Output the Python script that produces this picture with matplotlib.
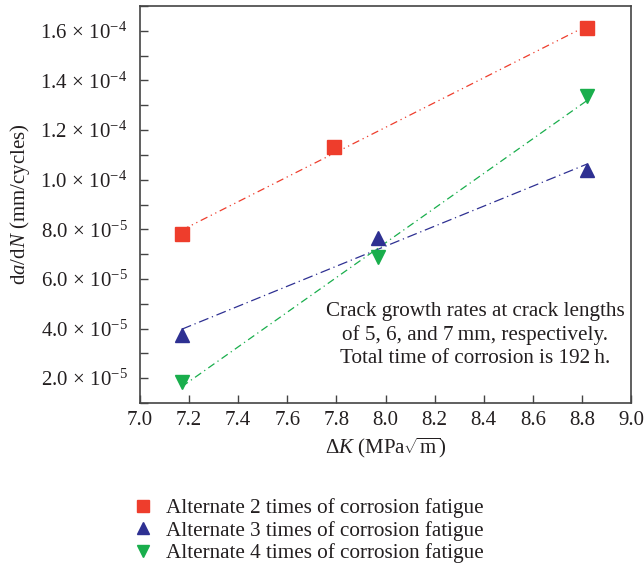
import numpy as np
import matplotlib
matplotlib.use("Agg")
import matplotlib.pyplot as plt
from matplotlib.lines import Line2D
from matplotlib.ticker import MultipleLocator, FuncFormatter

plt.rcParams["font.family"] = ["Liberation Serif", "DejaVu Serif"]
plt.rcParams["mathtext.fontset"] = "custom"
plt.rcParams["mathtext.rm"] = "Liberation Serif"
plt.rcParams["mathtext.it"] = "Liberation Serif:italic"
plt.rcParams["mathtext.bf"] = "Liberation Serif:bold"

# stress intensity factor range (MPa sqrt(m)) and crack growth rate (mm/cycle)
dk_2 = [7.17, 7.79, 8.82]
rate_2 = [7.8e-5, 1.133e-4, 1.61e-4]
dk_3 = [7.17, 7.97, 8.82]
rate_3 = [3.73e-5, 7.67e-5, 1.04e-4]
dk_4 = [7.17, 7.97, 8.82]
rate_4 = [1.85e-5, 6.87e-5, 1.337e-4]

labels = ["Alternate 2 times of corrosion fatigue",
          "Alternate 3 times of corrosion fatigue",
          "Alternate 4 times of corrosion fatigue"]
colors = ["#EE3D2C", "#2E3092", "#19AE4C"]
markers = ["s", "^", "v"]
dashes = [(6, 3, 1, 3, 1, 3), (8, 3, 1, 3), (6, 3, 1, 3)]

fig = plt.figure(figsize=(6.44, 5.73), dpi=100)
ax = fig.add_axes([0.2174, 0.2967, 0.7626, 0.6928])

handles = []
for x, y, c, m, d, lab in zip([dk_2, dk_3, dk_4], [rate_2, rate_3, rate_4],
                              colors, markers, dashes, labels):
    x = np.array(x)
    y = np.array(y)
    # linear fit through each series, drawn between first and last point
    k, b = np.polyfit(x, y, 1)
    xs = np.array([x.min(), x.max()])
    ax.plot(xs, k * xs + b, color=c, lw=0.9, dashes=d, zorder=2)
    ax.plot(x, y, linestyle="none", marker=m, ms=10, color=c, mec=c, zorder=3)
    handles.append(Line2D([], [], linestyle="none", marker=m, ms=9, color=c, label=lab))

ax.set_xlim(7.0, 9.0)
ax.set_ylim(1.0e-5, 1.7e-4)
ax.xaxis.set_major_locator(MultipleLocator(0.2))
ax.yaxis.set_major_locator(MultipleLocator(2e-5))
ax.yaxis.set_minor_locator(MultipleLocator(1e-5))


def sci_label(v, pos):
    if v <= 0:
        return ""
    e = int(np.floor(np.log10(v) + 1e-9))
    return r"$%.1f\,\times\,10^{%d}$" % (v / 10 ** e, e)


ax.xaxis.set_major_formatter(FuncFormatter(lambda v, p: "%.1f" % v))
ax.yaxis.set_major_formatter(FuncFormatter(sci_label))
ax.tick_params(axis="both", which="both", direction="in", labelsize=15,
               color="#444444", labelcolor="#231f20", top=False, right=False)
ax.tick_params(which="major", length=6, width=1.0)
ax.tick_params(which="minor", length=6, width=1.0)
ax.tick_params(axis="x", pad=6)
ax.tick_params(axis="y", pad=9)
for s in ax.spines.values():
    s.set_color("#444444")
    s.set_linewidth(1.2)

ax.set_xlabel(r"$\Delta K$ (MPa$\sqrt{\mathrm{m}}$)", fontsize=15, color="#231f20", labelpad=4)
ax.set_ylabel(r"d$a$/d$N$ (mm/cycles)", fontsize=15, color="#231f20", labelpad=6)

ax.text(0.682, 0.171,
        "Crack growth rates at crack lengths\nof 5, 6, and 7\u2009mm, respectively.\nTotal time of corrosion is 192\u2009h.",
        transform=ax.transAxes, ha="center", va="center", fontsize=15.2,
        color="#231f20", linespacing=1.3)

fig.legend(handles=handles, loc="upper left", bbox_to_anchor=(0.19, 0.149),
           frameon=False, fontsize=15.2, handlelength=1.0, handletextpad=0.55,
           labelspacing=0.12, borderpad=0, labelcolor="#231f20")

fig.savefig("out.png", dpi=100)
